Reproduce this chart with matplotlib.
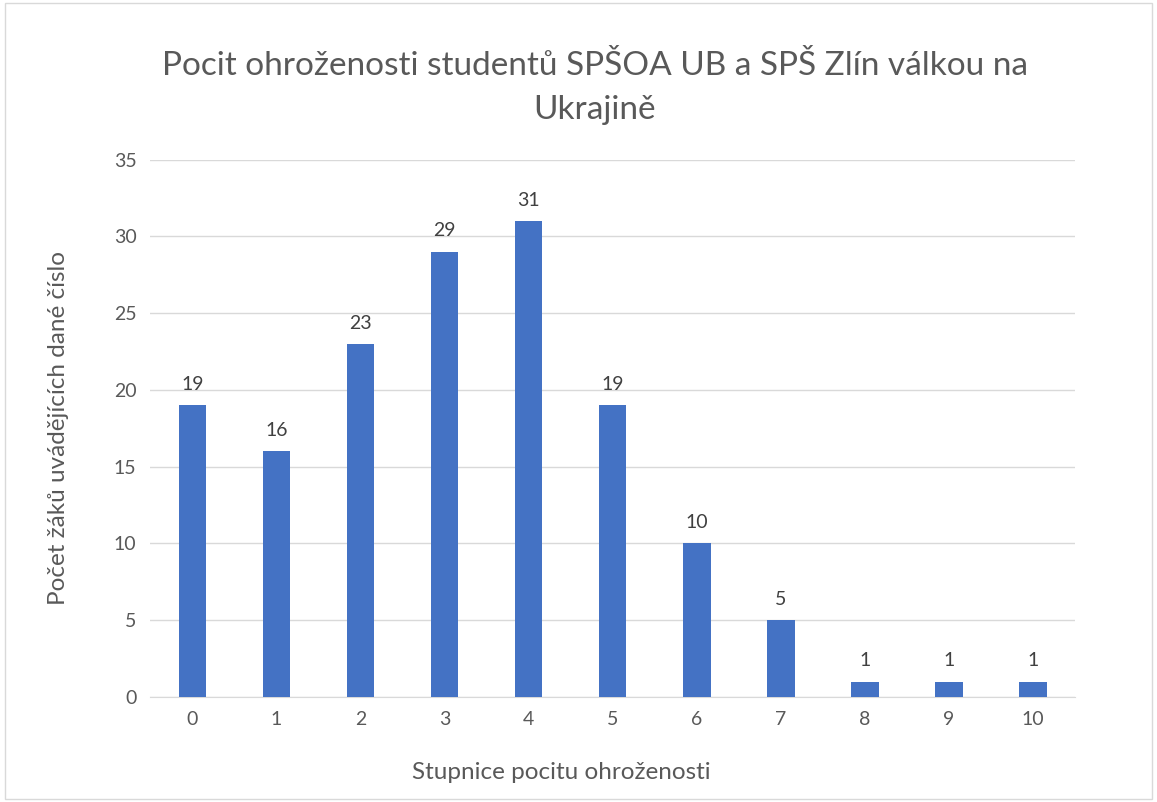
import matplotlib.pyplot as plt

plt.rcParams["font.family"] = ["Lato", "DejaVu Sans"]

categories = ["0", "1", "2", "3", "4", "5", "6", "7", "8", "9", "10"]
counts = [19, 16, 23, 29, 31, 19, 10, 5, 1, 1, 1]

fig = plt.figure(figsize=(11.57, 8.02), dpi=100)
ax = fig.add_axes([0.130, 0.131, 0.799, 0.670])

x = range(len(categories))
bars = ax.bar(x, counts, width=0.33, color="#4472C4", zorder=3)
for xi, v in zip(x, counts):
    ax.text(xi, v + 0.8, str(v), ha="center", va="bottom", fontsize=14, color="#404040")

ax.set_xlim(-0.5, len(categories) - 0.5)
ax.set_ylim(0, 35)
ax.set_yticks(range(0, 36, 5))
ax.set_xticks(list(x))
ax.set_xticklabels(categories)
ax.tick_params(axis="both", length=0, labelsize=14, colors="#595959", pad=10)
ax.grid(axis="y", color="#D9D9D9", linewidth=1, zorder=0)
for s in ["top", "right", "left"]:
    ax.spines[s].set_visible(False)
ax.spines["bottom"].set_color("#D9D9D9")

fig.text(0.485, 0.037, "Stupnice pocitu ohroženosti", ha="center", va="center",
         fontsize=17.5, color="#595959")
ax.set_ylabel("Počet žáků uvádějících dané číslo", fontsize=17.5, color="#595959", labelpad=32)
fig.text(0.514, 0.890, "Pocit ohroženosti studentů SPŠOA UB a SPŠ Zlín válkou na\nUkrajině",
         ha="center", va="center", fontsize=24, color="#595959", linespacing=1.6)

# light border around the chart
fig.patches.append(plt.Rectangle((0.004, 0.004), 0.992, 0.992, transform=fig.transFigure,
                                 fill=False, edgecolor="#D9D9D9", linewidth=1))

plt.savefig("out.png", dpi=100)
